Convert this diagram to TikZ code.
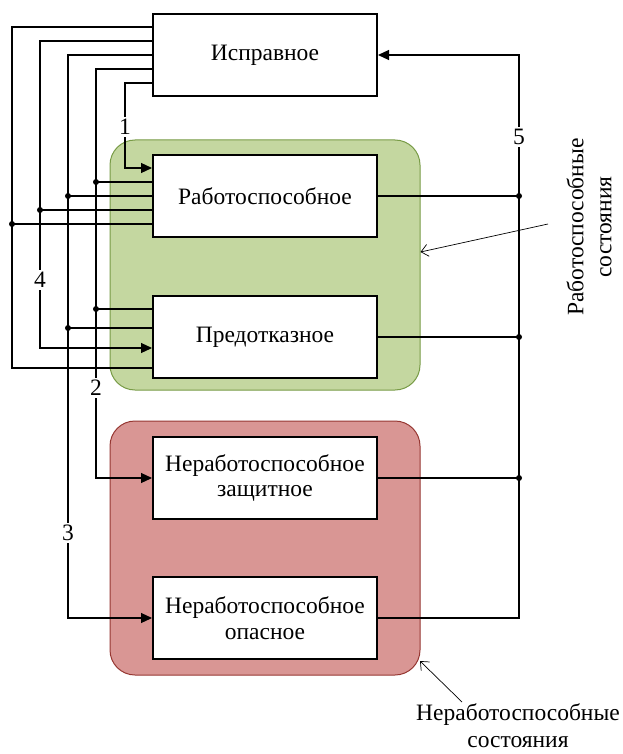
\documentclass[tikz,border=0pt]{standalone}
\usepackage{fontspec}
\setmainfont{Liberation Serif}
\usetikzlibrary{arrows.meta,calc}
\definecolor{gfill}{RGB}{196,215,160}
\definecolor{gdraw}{RGB}{120,155,70}
\definecolor{rfill}{RGB}{217,150,148}
\definecolor{rdraw}{RGB}{150,55,50}
\begin{document}
\begin{tikzpicture}[x=1pt,y=-1pt,
  box/.style={draw,line width=2pt,fill=white,minimum width=224pt,minimum height=82pt,
    align=center,font=\fontsize{23.5}{25.5}\selectfont,inner sep=0pt},
  region/.style={rounded corners=25pt,line width=1pt,inner sep=0pt},
  conn/.style={line width=1.2pt},
  arr/.style={conn,-{Triangle[length=11pt,width=10pt]}},
  dot/.style={circle,fill,inner sep=0pt,minimum size=6pt},
  lbl/.style={fill=white,inner sep=2pt,font=\fontsize{23.5}{25}\selectfont},
  note/.style={align=center,font=\fontsize{23.5}{28}\selectfont,inner sep=0pt},
  pointer/.style={line width=0.7pt,-{Straight Barb[length=7pt,width=12pt]}}]

\useasboundingbox (0,0) rectangle (622,754);

% regions
\node[region,draw=gdraw,fill=gfill,minimum width=310pt,minimum height=250pt] (g) at (265,265) {};
\node[region,draw=rdraw,fill=rfill,minimum width=310pt,minimum height=254pt] (r) at (265,548) {};

% state boxes
\node[box] (a) at (265,55) {Исправное};
\node[box] (b) at (265,196) {Работоспособное};
\node[box] (c) at (265,337) {Предотказное};
\node[box] (d) at (265,478) {Неработоспособное\\защитное};
\node[box] (e) at (265,618) {Неработоспособное\\опасное};

% left connectors
\draw[arr] ([yshift=-28pt]a.west) -| (125,140) |- ([yshift=28pt]b.west);
\draw[arr] ([yshift=-14pt]a.west) -| (96,300) |- (d.west);
\draw[arr] (a.west) -| (68,300) |- (e.west);
\draw[arr] ([yshift=14pt]a.west) -| (40,200) |- ([yshift=-11pt]c.west);
\draw[conn] ([yshift=28pt]a.west) -| (12,200) |- ([yshift=-31pt]c.west);

\draw[conn] (96,182) node[dot] (p1) {} -- ([yshift=14pt]b.west);
\draw[conn] (68,196) node[dot] (p2) {} -- (b.west);
\draw[conn] (40,210) node[dot] (p3) {} -- ([yshift=-14pt]b.west);
\draw[conn] (12,224) node[dot] (p4) {} -- ([yshift=-28pt]b.west);
\draw[conn] (96,309) node[dot] (p5) {} -- ([yshift=28pt]c.west);
\draw[conn] (68,328) node[dot] (p6) {} -- ([yshift=9pt]c.west);

% right connectors
\draw[arr] (e.east) -| (519,300) |- (a.east);
\draw[conn] (b.east) -- (519,196) node[dot] (q1) {};
\draw[conn] (c.east) -- (519,337) node[dot] (q2) {};
\draw[conn] (d.east) -- (519,478) node[dot] (q3) {};

% number labels
\node[lbl] (n1) at (125,127) {1};
\node[lbl] (n2) at (96,388) {2};
\node[lbl] (n3) at (68,533) {3};
\node[lbl] (n4) at (40,280) {4};
\node[lbl] (n5) at (519,137) {5};

% annotations
\node[note,rotate=90] (t1) at (589,227) {Работоспособные\\состояния};
\coordinate (s1) at (548,224);
\draw[pointer] (s1) -- ([yshift=13pt]g.east);
\node[note,font=\fontsize{23.5}{27}\selectfont] (t2) at (518,726) {Неработоспособные\\состояния};
\coordinate (s2) at (462,702);
\coordinate (e2) at (420,661);
\draw[pointer] (s2) -- (e2);
\end{tikzpicture}
\end{document}
